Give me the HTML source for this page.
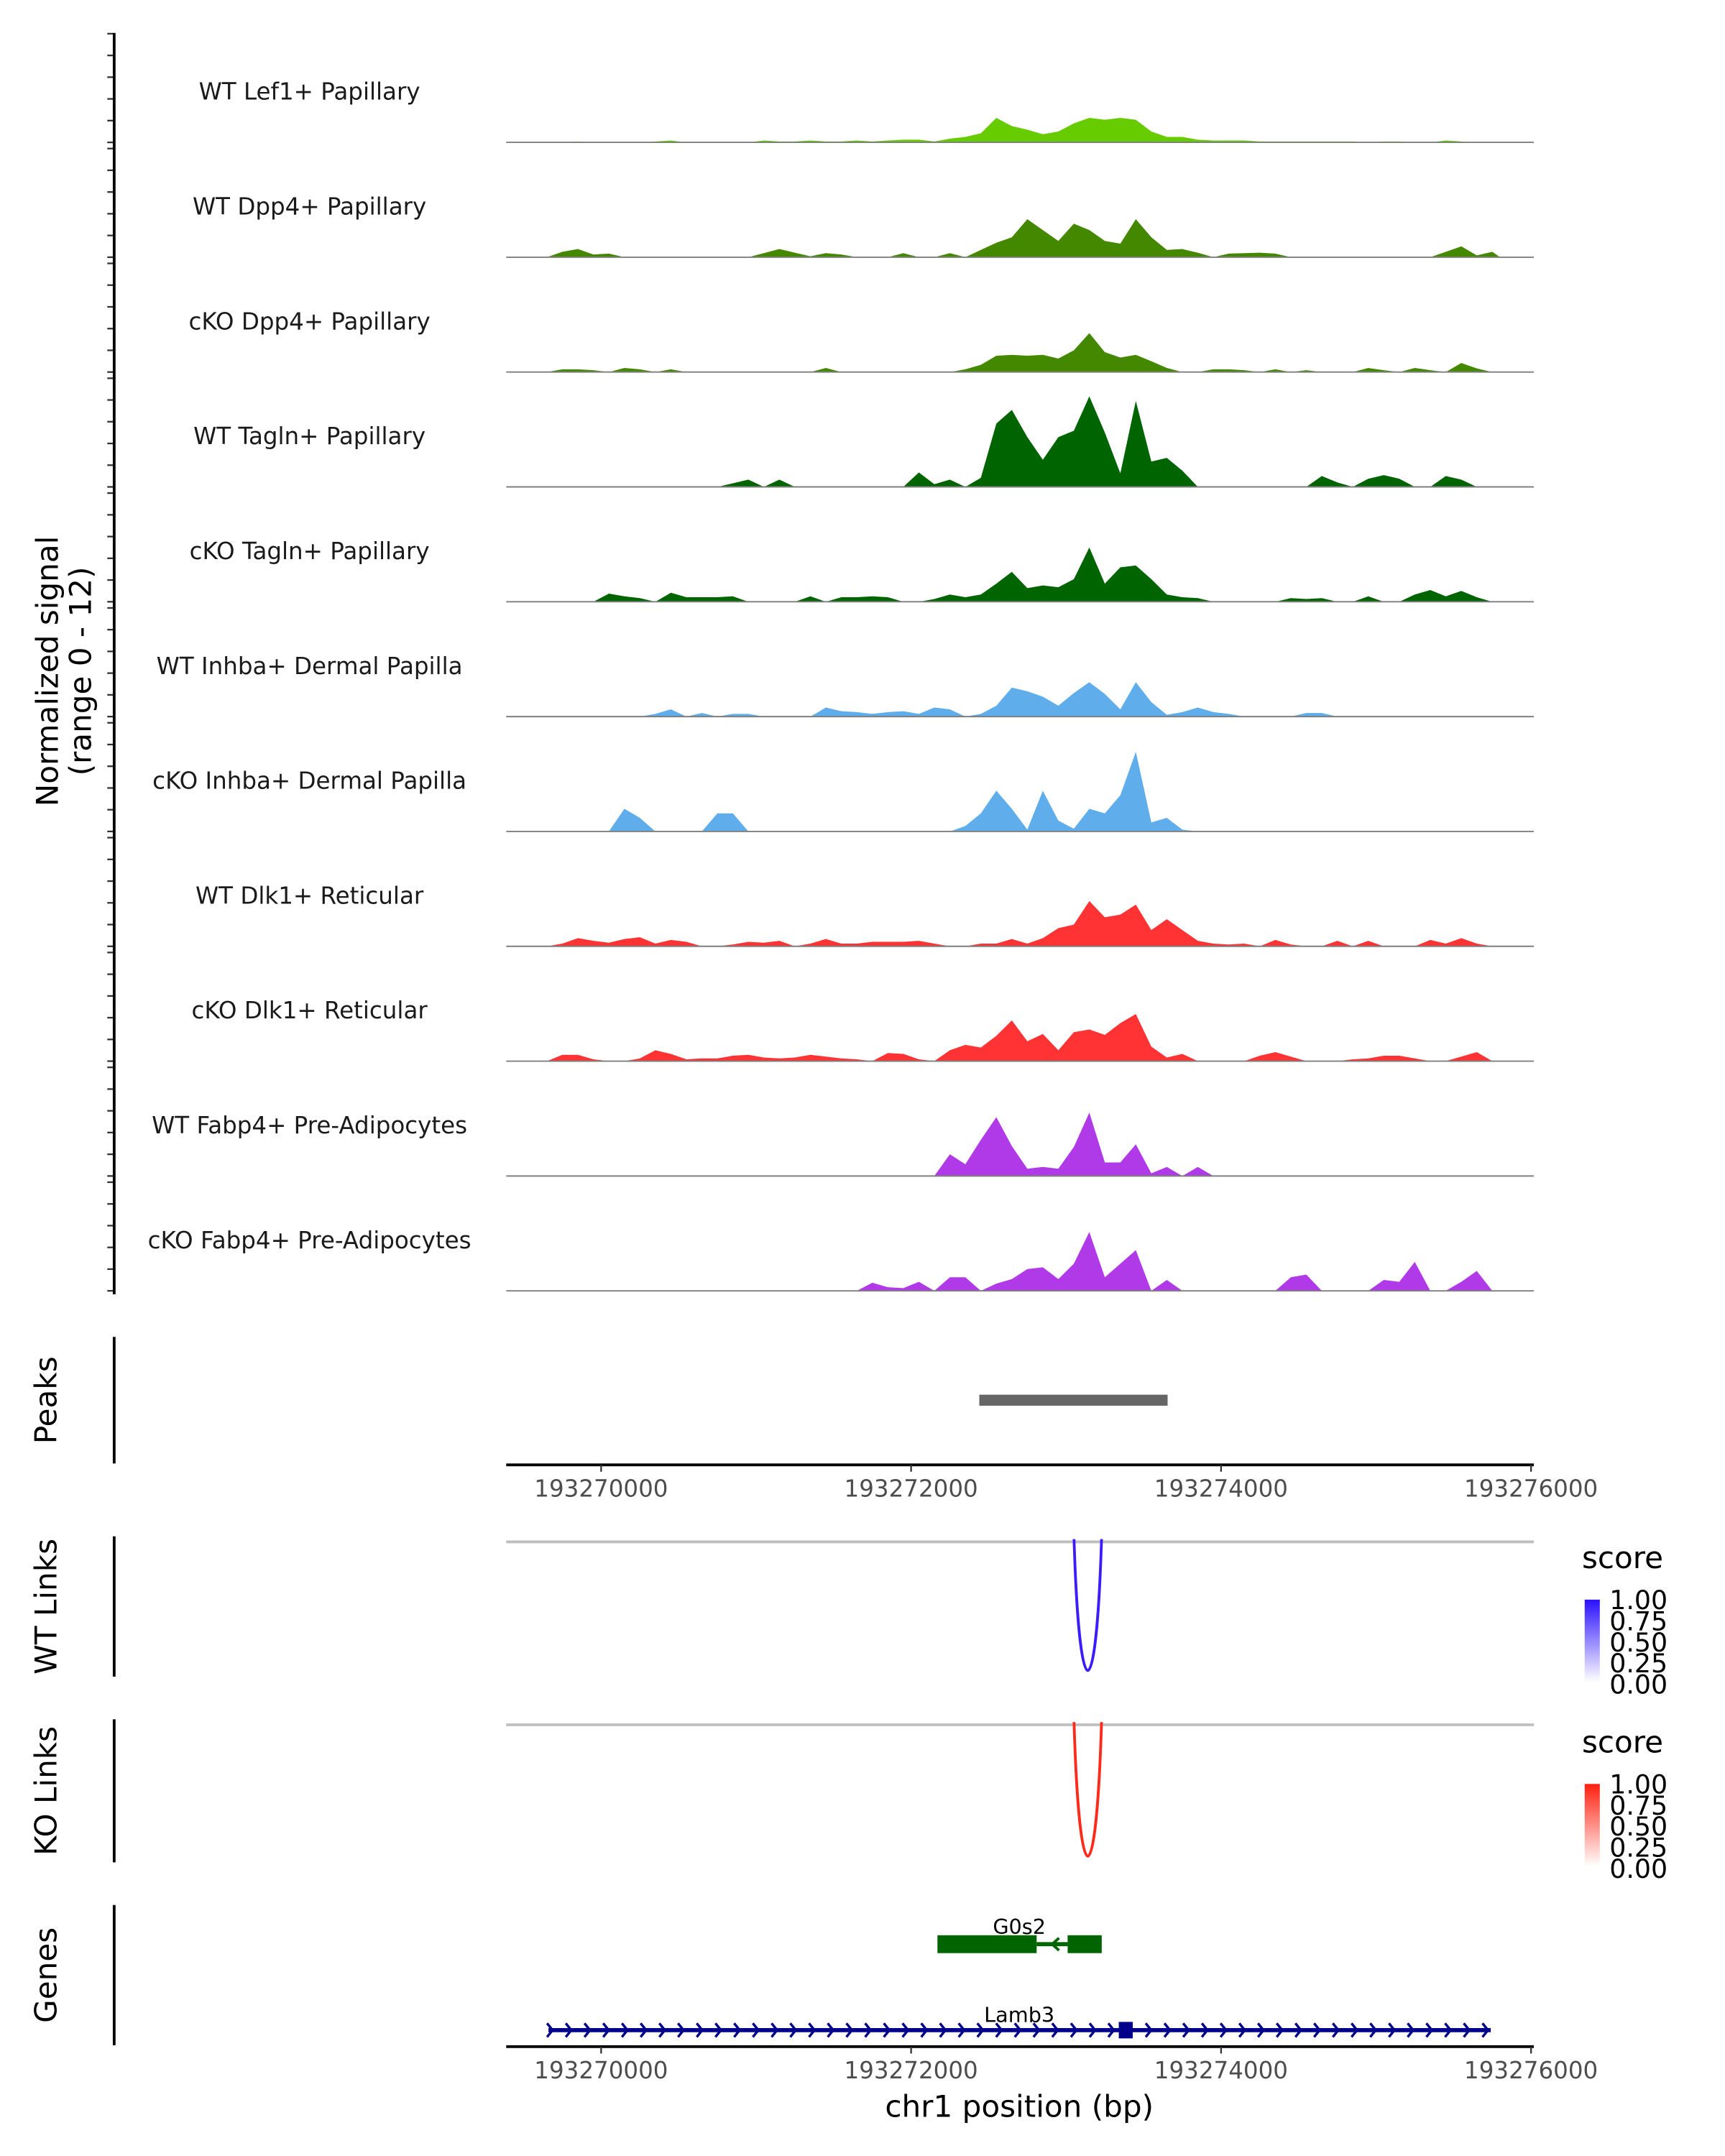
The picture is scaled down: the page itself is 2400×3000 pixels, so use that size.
<!DOCTYPE html>
<html><head><meta charset="utf-8">
<style>
html,body{margin:0;padding:0;background:#fff;}
svg{display:block;font-family:"DejaVu Sans","Liberation Sans",sans-serif;}
</style></head>
<body>
<svg id="chart" width="2400" height="3000" viewBox="0 0 1254 1567.5" xmlns="http://www.w3.org/2000/svg">
<defs>
<linearGradient id="gBlue" x1="0" y1="1" x2="0" y2="0"><stop offset="0" stop-color="#ffffff"/><stop offset="1" stop-color="#2a10ff"/></linearGradient>
<linearGradient id="gRed" x1="0" y1="1" x2="0" y2="0"><stop offset="0" stop-color="#ffffff"/><stop offset="1" stop-color="#ff2010"/></linearGradient>
<clipPath id="clipWT"><rect x="368" y="1117" width="747" height="102"/></clipPath>
<clipPath id="clipKO"><rect x="368" y="1250" width="747" height="104"/></clipPath>
</defs>
<g id="tracks"></g>
<g id="axes"></g>
</svg>
<script>
// ---- data ----
const binStart = 193269600;
const binSize = 100;
const trackNames = ["WT Lef1+ Papillary","WT Dpp4+ Papillary","cKO Dpp4+ Papillary","WT Tagln+ Papillary","cKO Tagln+ Papillary","WT Inhba+ Dermal Papilla","cKO Inhba+ Dermal Papilla","WT Dlk1+ Reticular","cKO Dlk1+ Reticular","WT Fabp4+ Pre-Adipocytes","cKO Fabp4+ Pre-Adipocytes"];
const trackColors = ["#66cc00","#448800","#448800","#006400","#006400","#5fadeb","#5fadeb","#ff3333","#ff3333","#b03ae8","#b03ae8"];
const sigLef1WT = [0,0,0.1,0,0,0,0,0.1,0.2,0,0,0,0,0,0.2,0.1,0.1,0.2,0.1,0.1,0.2,0.1,0.2,0.3,0.3,0.1,0.4,0.6,1.0,2.7,1.8,1.4,0.9,1.2,2.1,2.7,2.5,2.7,2.5,1.2,0.6,0.6,0.3,0.2,0.2,0.2,0.1,0.1,0.1,0.1,0.1,0.1,0.1,0,0.1,0.1,0,0,0.2,0.1,0,0];
const sigDpp4WT = [0,0.6,0.9,0.3,0.4,0,0,0,0,0,0,0,0,0,0.45,0.9,0.5,0.1,0.45,0.3,0,0,0,0.45,0,0,0.45,0,0.8,1.6,2.2,4.2,3.0,1.8,3.7,3.0,1.8,1.5,4.2,2.2,0.8,0.9,0.5,0,0.4,0.45,0.5,0.4,0,0,0,0,0,0,0,0,0,0,0.6,1.2,0.2,0.6];
const sigDpp4KO = [0,0.3,0.3,0.2,0,0.45,0.3,0,0.3,0,0,0,0,0,0,0,0,0,0.45,0,0,0,0,0,0,0,0,0.3,0.8,1.8,1.9,1.8,1.9,1.5,2.4,4.3,2.2,1.6,1.9,1.2,0.45,0,0,0.3,0.3,0.2,0,0.3,0,0.2,0,0,0,0.45,0.2,0,0.45,0.2,0,1.0,0.4,0];
const sigTaglnWT = [0,0,0,0,0,0,0,0,0,0,0,0,0.4,0.8,0,0.8,0,0,0,0,0,0,0,0,1.6,0.3,0.8,0,1.0,7.0,8.5,5.5,3.0,5.5,6.2,10.0,6.0,1.5,9.5,2.8,3.2,1.8,0,0,0,0,0,0,0,0,1.2,0.5,0,0.9,1.3,0.9,0,0,1.2,0.8,0,0];
const sigTaglnKO = [0,0,0,0,0.9,0.6,0.4,0,1.0,0.5,0.5,0.5,0.6,0,0,0,0,0.6,0,0.5,0.5,0.6,0.5,0,0,0.3,0.8,0.5,0.8,2.0,3.3,1.5,1.8,1.6,2.5,6.0,2.0,3.8,4.0,2.5,0.8,0.5,0.4,0,0,0,0,0,0.4,0.3,0.4,0,0,0.6,0,0,0.8,1.3,0.6,1.2,0.5,0];
const sigInhbaWT = [0,0,0,0,0,0,0,0.3,0.8,0,0.4,0,0.3,0.3,0,0,0,0,1.0,0.6,0.5,0.3,0.5,0.6,0.3,1.0,0.8,0,0.3,1.2,3.2,2.8,2.2,1.2,2.6,3.8,2.5,0.8,3.8,1.6,0.2,0.5,1.0,0.5,0.3,0,0,0,0,0.4,0.4,0,0,0,0,0,0,0,0,0,0,0];
const sigInhbaKO = [0,0,0,0,0,2.5,1.5,0,0,0,0,2.0,2.0,0,0,0,0,0,0,0,0,0,0,0,0,0,0,0.6,2.0,4.5,2.5,0.2,4.5,1.2,0.3,2.5,2.0,4.0,8.8,1.0,1.5,0.2,0,0,0,0,0,0,0,0,0,0,0,0,0,0,0,0,0,0,0,0];
const sigDlk1WT = [0,0.3,0.9,0.6,0.4,0.8,1.0,0.3,0.7,0.5,0,0,0.2,0.5,0.4,0.6,0,0.3,0.8,0.3,0.3,0.5,0.5,0.5,0.6,0.3,0,0,0.3,0.3,0.8,0.3,0.9,2.0,2.4,5.0,3.2,3.5,4.6,1.8,3.0,1.8,0.6,0.3,0.2,0.3,0,0.7,0.2,0,0,0.6,0,0.6,0,0,0,0.7,0.3,0.9,0.3,0];
const sigDlk1KO = [0,0.7,0.7,0.2,0,0,0.3,1.2,0.8,0.2,0.3,0.3,0.6,0.7,0.4,0.3,0.4,0.7,0.5,0.3,0.2,0,0.9,0.8,0.2,0,1.2,1.8,1.5,2.8,4.5,2.2,3.0,1.2,3.2,3.5,2.9,4.2,5.2,1.6,0.4,0.8,0,0,0,0,0.6,1.0,0.5,0,0,0,0.2,0.3,0.6,0.6,0.3,0,0,0.5,1.0,0];
const sigFabp4WT = [0,0,0,0,0,0,0,0,0,0,0,0,0,0,0,0,0,0,0,0,0,0,0,0,0,0,2.4,1.3,4.0,6.5,3.3,0.8,1.0,0.8,3.2,7.0,1.5,1.5,3.5,0.3,1.0,0,1.0,0,0,0,0,0,0,0,0,0,0,0,0,0,0,0,0,0,0,0];
const sigFabp4KO = [0,0,0,0,0,0,0,0,0,0,0,0,0,0,0,0,0,0,0,0,0,0.9,0.4,0.3,1.0,0,1.5,1.5,0,0.8,1.3,2.4,2.6,1.3,3.0,6.5,1.5,3.0,4.5,0,1.2,0,0,0,0,0,0,0,1.5,1.8,0,0,0,0,1.2,1.0,3.2,0,0,1.0,2.2,0];
const signals = [sigLef1WT,sigDpp4WT,sigDpp4KO,sigTaglnWT,sigTaglnKO,sigInhbaWT,sigInhbaKO,sigDlk1WT,sigDlk1KO,sigFabp4WT,sigFabp4KO];
const xTicks = [193270000,193272000,193274000,193276000];
const peakStart = [193272440];
const peakEnd = [193273655];
const wtLinkCenter = [193273140];
const koLinkCenter = [193273140];
const legendLabels = ["1.00","0.75","0.50","0.25","0.00"];
const g0s2Exons = [[193272170,193272810],[193273010,193273230]];
const lamb3Range = [193269660,193275740];
const lamb3Exon = [193273340,193273430];

// ---- scales ----
const NS="http://www.w3.org/2000/svg";
const X0=368, X1=1115;
function xs(bp){ return 437 + (bp-193270000)*(676/6000); }
const trackH=83.5, firstBase=103.5, unitPx=79/12;
function ys(v,base){ return base - v*unitPx; }
function el(tag,attrs,parent){ const e=document.createElementNS(NS,tag); for(const k in attrs) e.setAttribute(k,attrs[k]); parent.appendChild(e); return e; }
const tracksG=document.getElementById('tracks');
const axesG=document.getElementById('axes');

// ---- coverage tracks ----
signals.forEach((arr,t)=>{
  const base=firstBase+t*trackH;
  let d='M'+xs(binStart).toFixed(2)+','+base;
  arr.forEach((v,i)=>{ d+=' L'+xs(binStart+binSize*(i+0.5)).toFixed(2)+','+ys(v,base).toFixed(2); });
  d+=' L'+xs(binStart+binSize*arr.length).toFixed(2)+','+base+' Z';
  const p=el('path',{d:d,fill:trackColors[t]},tracksG);
  
  
  const bl=el('line',{x1:X0,x2:X1,y1:base,y2:base,stroke:'#7f7f7f','stroke-width':1},tracksG);
  
  
  const lb=el('text',{x:225,y:base-31,'text-anchor':'middle','font-size':17,fill:'#1a1a1a'},tracksG);
  lb.textContent=trackNames[t];
  
  
  for(let k=0;k<6;k++){
    const ty=base-k*15.8;
    const tk=el('line',{x1:78,x2:83,y1:ty,y2:ty,stroke:'#333','stroke-width':1.2},axesG);
    
    
  }
});
// left signal axis
let a=el('line',{x1:83,x2:83,y1:24,y2:941,stroke:'#000','stroke-width':2},axesG);


let yt=el('text',{transform:'translate(42,488) rotate(-90)','text-anchor':'middle','font-size':22,fill:'#000'},axesG);


yt.innerHTML='<tspan x="0" dy="0">Normalized signal</tspan><tspan x="0" dy="24">(range 0 - 12)</tspan>';
yt.setAttribute('transform','translate(42,488) rotate(-90)');

// panel side axes & titles
function sideAxis(y1,y2,label,name){
  const l=el('line',{x1:83,x2:83,y1:y1,y2:y2,stroke:'#000','stroke-width':2},axesG);
  
  
  const t=el('text',{transform:'translate(41,'+((y1+y2)/2)+') rotate(-90)','text-anchor':'middle','font-size':22,fill:'#000'},axesG);
  t.textContent=label;
  
  
}
sideAxis(972,1064,'Peaks','peaks');
sideAxis(1117,1219,'WT Links','wt-links');
sideAxis(1250,1354,'KO Links','ko-links');
sideAxis(1385,1487,'Genes','genes');

// peaks
peakStart.forEach((s,i)=>{
  const r=el('rect',{x:xs(s),y:1014,width:xs(peakEnd[i])-xs(s),height:8,fill:'#666666'},tracksG);
  
  
});

// x axes
function xAxis(y,name){
  const l=el('line',{x1:X0,x2:X1,y1:y,y2:y,stroke:'#000','stroke-width':2},axesG);
  
  
  xTicks.forEach(v=>{
    const tk=el('line',{x1:xs(v),x2:xs(v),y1:y,y2:y+5,stroke:'#333','stroke-width':1.2},axesG);
    
    
    const tl=el('text',{x:xs(v),y:y+23,'text-anchor':'middle','font-size':17,fill:'#4d4d4d'},axesG);
    tl.textContent=String(v);
    
    
  });
}
xAxis(1065,'peaks-x-axis');
xAxis(1488,'genes-x-axis');
let xt=el('text',{x:741,y:1539,'text-anchor':'middle','font-size':22,fill:'#000'},axesG);
xt.textContent='chr1 position (bp)';



// links
function linkPanel(topY,bottomY,center,color,clip,name,grad,legY){
  const gl=el('line',{x1:X0,x2:X1,y1:topY,y2:topY,stroke:'#bebebe','stroke-width':2},tracksG);
  
  
  center.forEach(c=>{
    const cx=xs(c), cy=bottomY+(bottomY-topY)/3;
    const p=el('path',{d:'M'+(cx-10)+','+(topY-2)+' C'+(cx-6)+','+cy+' '+(cx+6)+','+cy+' '+(cx+10)+','+(topY-2),fill:'none',stroke:color,'stroke-width':2,'clip-path':'url(#'+clip+')'},tracksG);
    
    
  });
  const st=el('text',{x:1150,y:legY,'font-size':22,fill:'#000'},axesG);
  st.textContent='score';
  
  
  const cb=el('rect',{x:1152,y:legY+23,width:11,height:60,fill:'url(#'+grad+')'},axesG);
  
  
  legendLabels.forEach((s,i)=>{
    const t=el('text',{x:1170,y:legY+30+i*15.3,'font-size':19,fill:'#000'},axesG);
    t.textContent=s;
    
    
  });
}
linkPanel(1121,1215,wtLinkCenter,'#3a1cff','clipWT','wt-links','gBlue',1140);
linkPanel(1254,1350,koLinkCenter,'#ff2a1a','clipKO','ko-links','gRed',1274);

// genes
const gg=el('g',{},tracksG);


el('line',{x1:xs(g0s2Exons[0][1]),x2:xs(g0s2Exons[1][0]),y1:1413.5,y2:1413.5,stroke:'#006400','stroke-width':3},gg);
g0s2Exons.forEach(e=>{ el('rect',{x:xs(e[0]),y:1407,width:xs(e[1])-xs(e[0]),height:13,fill:'#006400'},gg); });
const arx=(xs(g0s2Exons[0][1])+xs(g0s2Exons[1][0]))/2+2;
el('path',{d:'M'+(arx+3)+',1409 L'+(arx-2)+',1413.5 L'+(arx+3)+',1418',fill:'none',stroke:'#006400','stroke-width':2},gg);
let gl1=el('text',{x:741,y:1406,'text-anchor':'middle','font-size':15,fill:'#000'},tracksG);
gl1.textContent='G0s2';



const lg=el('g',{},tracksG);


const lx1=xs(lamb3Range[0]), lx2=xs(lamb3Range[1]);
el('line',{x1:lx1,x2:lx2,y1:1476,y2:1476,stroke:'#00008b','stroke-width':3},lg);
let chev='';
for(let x=lx1+2;x<=lx2;x+=13.6){ chev+='M'+(x-3)+',1471 L'+(x+1)+',1476 L'+(x-3)+',1481 '; }
el('path',{d:chev,fill:'none',stroke:'#00008b','stroke-width':1.8},lg);
el('rect',{x:xs(lamb3Exon[0]),y:1470,width:xs(lamb3Exon[1])-xs(lamb3Exon[0]),height:12,fill:'#00008b'},lg);
let gl2=el('text',{x:741,y:1470,'text-anchor':'middle','font-size':15,fill:'#000'},tracksG);
gl2.textContent='Lamb3';


</script>
</body></html>
